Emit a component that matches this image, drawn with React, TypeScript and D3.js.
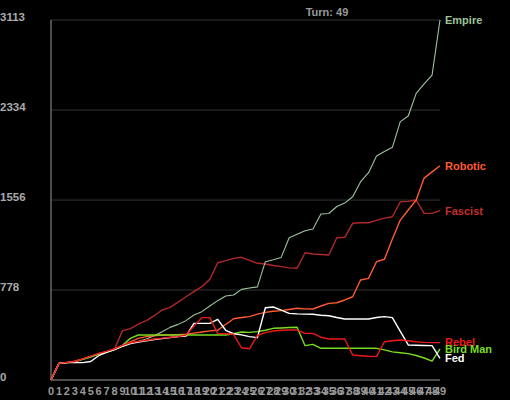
import React from "react";
import * as d3 from "d3";

const turns: number[] = Array.from({ length: 50 }, (_, i) => i);
const yTicks: number[] = [0, 778, 1556, 2334, 3113];
const turnLabel = "Turn: 49";

const empire: number[] = [0,144,150,160,180,200,222,240,262,290,315,335,355,382,418,455,481,513,562,591,640,686,726,735,784,795,805,1023,1040,1060,1230,1260,1290,1306,1435,1440,1500,1530,1585,1715,1793,1937,1975,2012,2234,2283,2479,2560,2637,3113];
const robotic: number[] = [0,144,152,162,183,205,228,245,268,298,330,360,375,383,389,390,392,395,405,415,425,430,480,530,540,548,570,585,595,600,610,620,615,614,640,663,668,692,720,865,879,1023,1044,1220,1383,1470,1556,1746,1800,1853];
const fascist: number[] = [0,144,150,160,180,205,228,245,265,427,444,484,513,556,605,628,674,720,764,807,870,1014,1032,1052,1061,1035,1009,1003,990,980,970,966,1100,1090,1085,1081,1230,1234,1355,1360,1360,1380,1400,1412,1540,1545,1556,1441,1441,1464];
const rebel: number[] = [0,144,152,160,182,206,230,248,270,300,322,334,344,354,362,370,375,389,465,539,539,403,400,395,279,270,385,410,424,430,432,432,403,403,370,355,355,355,216,210,205,202,331,340,346,340,331,325,323,323];
const birdMan: number[] = [0,144,150,158,178,200,224,242,265,300,360,389,389,389,389,389,389,389,389,389,389,389,389,400,415,412,418,430,447,450,454,456,297,308,274,274,274,274,274,274,274,274,260,243,236,228,212,190,164,268];
const fed: number[] = [0,144,150,150,150,160,210,240,262,292,315,328,338,350,358,367,375,380,490,490,490,525,430,400,390,375,366,625,631,605,576,572,570,568,560,556,540,527,527,527,527,540,548,539,420,303,300,298,297,188];

const seriesNames: string[] = ["Empire", "Robotic", "Fascist", "Rebel", "Bird Man", "Fed"];
const seriesValues: number[][] = [empire, robotic, fascist, rebel, birdMan, fed];
const seriesColors: string[] = ["#9cc49c", "#ff5a30", "#b02828", "#ee1818", "#78dd22", "#ffffff"];
const labelColors: string[] = ["#9cc49c", "#ff5a30", "#c03030", "#ee1818", "#78dd22", "#ffffff"];
// draw order: back to front
const drawOrder: number[] = [2, 0, 1, 4, 5, 3];

export default function App() {
  React.useEffect(() => {
    document.body.style.margin = "0";
    document.body.style.background = "#000";
  }, []);

  const W = 510, H = 400;
  const x = d3.scaleLinear().domain([0, 49]).range([51, 440]);
  const y = d3.scaleLinear().domain([0, 3113]).range([380, 20]);
  const line = d3
    .line<number>()
    .x((_, i) => x(turns[i]))
    .y((d) => y(d));

  const font = "'Liberation Sans', Arial, sans-serif";

  return (
    <svg width={W} height={H} style={{ display: "block", background: "#000" }}>
      <rect x={0} y={0} width={W} height={H} fill="#000" />
      {yTicks.slice(1).map((t) => (
        <line key={"g" + t} x1={x(0)} x2={x(49)} y1={y(t)} y2={y(t)} stroke="#333" strokeWidth={1} />
      ))}
      {yTicks.map((t) => (
        <text key={"yt" + t} x={0} y={y(t) + 1} fill="#aaa" fontFamily={font} fontWeight="bold" fontSize={11.5}>
          {t}
        </text>
      ))}
      <line x1={x(0)} x2={x(0)} y1={y(3113)} y2={y(0)} stroke="#999" strokeWidth={1} />
      <line x1={x(0)} x2={x(49)} y1={y(0)} y2={y(0)} stroke="#999" strokeWidth={1} />
      {turns.map((t) => (
        <text key={"xt" + t} x={x(t)} y={395} fill="#999" fontFamily={font} fontWeight="bold" fontSize={11} textAnchor="middle">
          {t}
        </text>
      ))}
      <text x={327} y={16} fill="#999" fontFamily={font} fontWeight="bold" fontSize={11} textAnchor="middle">
        {turnLabel}
      </text>
      {drawOrder.map((i) => (
        <path
          key={"s" + i}
          d={line(seriesValues[i]) || ""}
          fill="none"
          stroke={seriesColors[i]}
          strokeWidth={i === 0 ? 1.1 : 1.4}
          strokeLinejoin="round"
        />
      ))}
      {seriesNames.map((n, i) => {
        const vals = seriesValues[i];
        return (
          <text
            key={"l" + n}
            x={445}
            y={y(vals[vals.length - 1])}
            dy="0.35em"
            fill={labelColors[i]}
            fontFamily={font}
            fontWeight="bold"
            fontSize={11}
          >
            {n}
          </text>
        );
      })}
    </svg>
  );
}
